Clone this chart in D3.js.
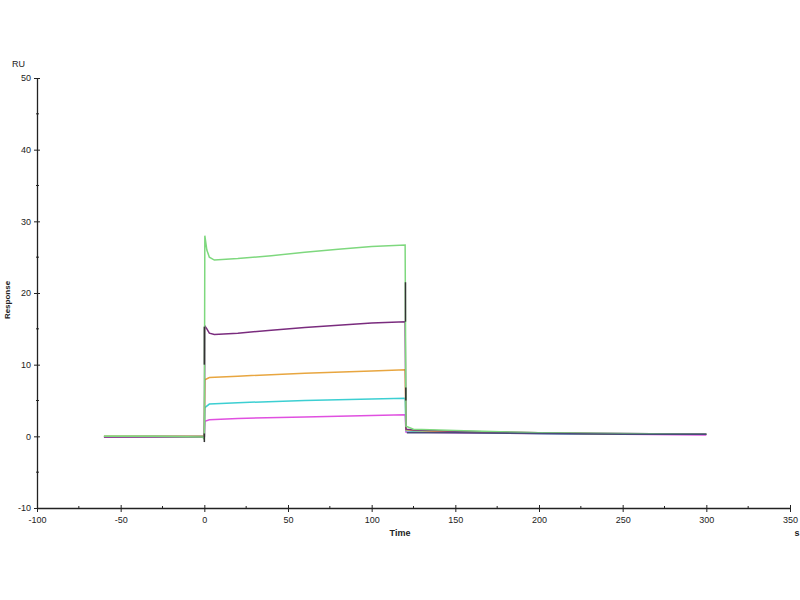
<!DOCTYPE html>
<html>
<head>
    <meta charset="utf-8">
    <script type="text/javascript" src="https://cdn.jsdelivr.net/npm/d3@7/dist/d3.min.js"></script>
    <style>
        body { margin: 0; background: white; }
        text { font-family: "Liberation Sans", Arial, sans-serif; }
    </style>
</head>
<body>
    <div id="chart"></div>
    <script type="text/javascript">

        // sensorgram curves, [time s, response RU]
        let greenCurve = [[-60,0.0],[-30,0.0],[-1,-0.1],[0,-0.4],[0.3,28.0],[1.5,26.0],[3,25.0],[6,24.6],[20,24.8],[40,25.2],[60,25.7],[80,26.1],[100,26.5],[120,26.7],[120.5,1.4],[125,1.0],[150,0.8],[200,0.5],[250,0.4],[300,0.3]];
        let purpleCurve = [[-60,-0.1],[-30,-0.1],[0,-0.1],[0.3,15.4],[1.5,15.0],[3,14.4],[6,14.2],[20,14.4],[40,14.8],[60,15.2],[80,15.5],[100,15.8],[120,16.0],[120.5,1.0],[125,0.9],[150,0.7],[200,0.5],[250,0.4],[300,0.3]];
        let orangeCurve = [[-60,0.0],[-30,0.0],[0,0.0],[0.3,7.9],[3,8.2],[20,8.4],[60,8.8],[100,9.1],[120,9.3],[120.5,0.9],[125,0.8],[150,0.6],[200,0.5],[250,0.3],[300,0.3]];
        let cyanCurve = [[-60,0.0],[-30,0.0],[0,0.0],[0.3,4.0],[3,4.5],[20,4.7],[60,5.0],[100,5.2],[120,5.3],[120.5,0.8],[125,0.7],[150,0.6],[200,0.4],[250,0.3],[300,0.3]];
        let magentaCurve = [[-60,-0.1],[-30,0.0],[0,0.0],[0.3,2.1],[3,2.3],[20,2.5],[60,2.7],[100,2.9],[120,3.0],[120.5,0.6],[125,0.6],[150,0.5],[200,0.4],[250,0.3],[300,0.2]];
        let navyCurve = [[121,0.5],[150,0.5],[200,0.4],[250,0.3],[300,0.3]];
        let curveColors = ["#7ed87e","#7a2c7e","#e8a640","#3ccfd2","#e050e0","#4a4a7a"];

        // dark injection spikes, [time, from RU, to RU]
        let spikes = [[0,10.0,15.3],[120.2,16.0,21.5],[120.4,5.0,6.8],[0,-0.8,0.4]];

        let xTicks = [-100,-50,0,50,100,150,200,250,300,350];
        let yTicks = [-10,0,10,20,30,40,50];

        let width = 800, height = 600;
        let svg = d3.select("#chart")
            .append("svg")
            .attr("width", width)
            .attr("height", height)
            .style("background-color", "white");

        let x = d3.scaleLinear().domain([-100,350]).range([37,790]);
        let y = d3.scaleLinear().domain([-10,50]).range([508,78]);
        let plain = d => String(d);

        // axes
        let axisColor = "#222";
        let xAxis = svg.append("g")
            .attr("transform", `translate(0,${y(-10)})`)
            .call(d3.axisBottom(x).tickValues(xTicks).tickFormat(plain).tickSize(4).tickSizeOuter(0));
        xAxis.selectAll(".tick text").attr("dy", "0.9em").style("font-size","9px").attr("fill","#222");
        xAxis.selectAll(".tick line").attr("y1",-3).attr("stroke",axisColor);
        xAxis.select(".domain").attr("stroke",axisColor).attr("stroke-width",1.3);
        xAxis.selectAll(".minor")
            .data(d3.range(-75,350,50))
            .enter().append("line")
            .attr("x1", d => x(d)).attr("x2", d => x(d))
            .attr("y1", -2).attr("y2", 1)
            .attr("stroke", axisColor);

        let yAxis = svg.append("g")
            .attr("transform", `translate(${x(-100)},0)`)
            .call(d3.axisLeft(y).tickValues(yTicks).tickFormat(plain).tickSize(4).tickSizeOuter(0));
        yAxis.selectAll(".tick text").attr("x", -6).style("font-size","9px").attr("fill","#222");
        yAxis.selectAll(".tick line").attr("x1",-3).attr("x2",3).attr("stroke",axisColor);
        yAxis.select(".domain").attr("stroke",axisColor).attr("stroke-width",1.3);
        yAxis.selectAll(".minor")
            .data(d3.range(-5,50,10))
            .enter().append("line")
            .attr("y1", d => y(d)).attr("y2", d => y(d))
            .attr("x1", -1).attr("x2", 2)
            .attr("stroke", axisColor);

        // titles
        svg.append("text").attr("x", 12).attr("y", 67).text("RU")
            .style("font-size","9px").attr("fill","#222");
        svg.append("text").attr("transform","translate(10,300) rotate(-90)")
            .attr("text-anchor","middle").text("Response")
            .style("font-size","8px").style("font-weight","bold").attr("fill","#222");
        svg.append("text").attr("x", 400).attr("y", 536).attr("text-anchor","middle").text("Time")
            .style("font-size","9px").style("font-weight","bold").attr("fill","#222");
        svg.append("text").attr("x", 797).attr("y", 536).attr("text-anchor","middle").text("s")
            .style("font-size","9px").style("font-weight","bold").attr("fill","#222");

        // curves, green drawn over the others as in the original
        let line = d3.line().x(d => x(d[0])).y(d => y(d[1]));
        let curves = [greenCurve, purpleCurve, orangeCurve, cyanCurve, magentaCurve, navyCurve];
        let drawOrder = [4,3,2,1,0,5];
        drawOrder.forEach(i => {
            svg.append("path")
                .datum(curves[i])
                .attr("d", line)
                .attr("fill","none")
                .attr("stroke", curveColors[i])
                .attr("stroke-width", 1.5);
        });

        svg.selectAll(".spike")
            .data(spikes)
            .enter().append("line")
            .attr("x1", d => x(d[0])).attr("x2", d => x(d[0]))
            .attr("y1", d => y(d[1])).attr("y2", d => y(d[2]))
            .attr("stroke", "#333")
            .attr("stroke-width", 1.5);

    </script>
</body>
</html>
